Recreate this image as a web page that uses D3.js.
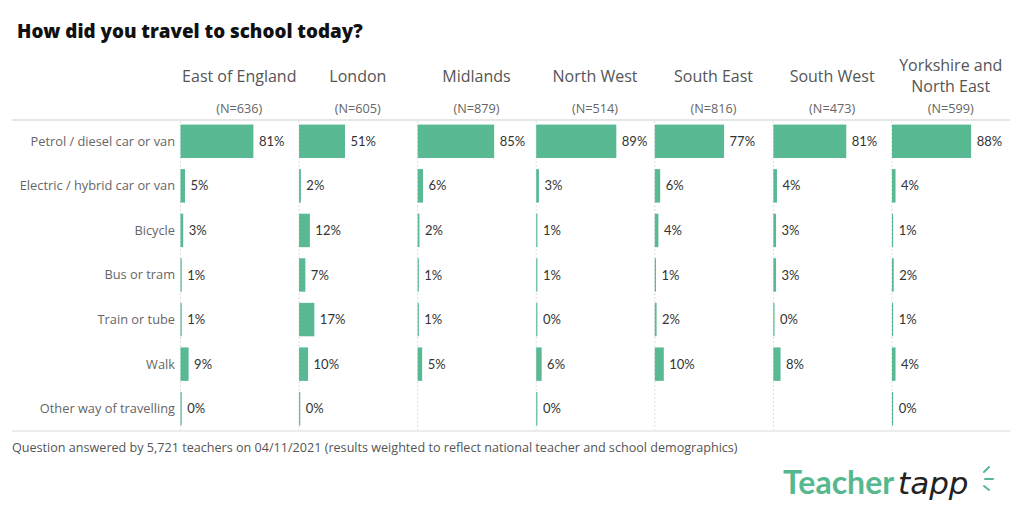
<!DOCTYPE html>
<html><head><meta charset="utf-8">
<script src="https://cdn.jsdelivr.net/npm/d3@7"></script>
<style>body{margin:0;background:#fff;} svg{display:block;}</style>
</head><body><svg id="c" width="1024" height="512"></svg>
<script>
const regions = ["East of England","London","Midlands","North West","South East","South West","Yorkshire and North East"];
const regionN = [636,605,879,514,816,473,599];
const modes = ["Petrol / diesel car or van","Electric / hybrid car or van","Bicycle","Bus or tram","Train or tube","Walk","Other way of travelling"];
const eastOfEngland = [81,5,3,1,1,9,0];
const london = [51,2,12,7,17,10,0];
const midlands = [85,6,2,1,1,5,null];
const northWest = [89,3,1,1,0,6,0];
const southEast = [77,6,4,1,2,10,null];
const southWest = [81,4,3,3,0,8,null];
const yorkshire = [88,4,1,2,1,4,0];
const seriesValues = [eastOfEngland,london,midlands,northWest,southEast,southWest,yorkshire];

const svg = d3.select("#c");
const font = "Lato, 'Open Sans', sans-serif";
const font2 = "'Open Sans', Lato, sans-serif";
const green = "#58b993";

svg.append("text").attr("x",17).attr("y",38).attr("font-family",font2).attr("font-weight",800)
  .attr("font-size",18.8).attr("fill","#111").text("How did you travel to school today?");

const x = d3.scaleBand().domain(regions).range([180,1010]);
const y = d3.scaleBand().domain(modes).range([119,431]).paddingInner(0.25).paddingOuter(0.125);
const w = d3.scaleLinear().domain([0,100]).range([0,90]);

svg.append("line").attr("x1",12).attr("x2",1010).attr("y1",120).attr("y2",120).attr("stroke","#e6e6e6").attr("stroke-width",2);
svg.append("line").attr("x1",12).attr("x2",1010).attr("y1",431).attr("y2",431).attr("stroke","#e6e6e6").attr("stroke-width",1.5);

regions.forEach((r,i)=>{
  const cx = x(r) + x.bandwidth()/2;
  const lines = r === "Yorkshire and North East" ? ["Yorkshire and","North East"] : [r];
  lines.forEach((ln,j)=>{
    const yy = lines.length===1 ? 82 : 71 + j*21;
    svg.append("text").attr("x",cx).attr("y",yy).attr("text-anchor","middle").attr("font-family",font2)
      .attr("font-size",16).attr("fill","#555").text(ln);
  });
  svg.append("text").attr("x",cx).attr("y",113).attr("text-anchor","middle").attr("font-family",font2)
    .attr("font-size",12.7).attr("fill","#666").text(`(N=${regionN[i]})`);
  svg.append("line").attr("x1",x(r)+0.5).attr("x2",x(r)+0.5).attr("y1",121).attr("y2",430)
    .attr("stroke","#dcdcdc").attr("stroke-dasharray","2,2").attr("stroke-width",1);
});

modes.forEach(m=>{
  svg.append("text").attr("x",175).attr("y",y(m)+y.bandwidth()/2).attr("dy","0.35em").attr("text-anchor","end")
    .attr("font-family",font2).attr("font-size",12.8).attr("fill","#666").text(m);
});

regions.forEach((r,i)=>{
  const g = svg.append("g");
  const data = modes.map((m,j)=>({m, v: seriesValues[i][j]})).filter(d=>d.v!==null);
  g.selectAll("rect").data(data).join("rect")
    .attr("x",x(r)+0.5).attr("y",d=>y(d.m)).attr("height",y.bandwidth())
    .attr("width",d=>Math.max(1.2,w(d.v))).attr("fill",green);
  g.selectAll("text").data(data).join("text")
    .attr("x",d=>x(r)+Math.max(1.2,w(d.v))+6).attr("y",d=>y(d.m)+y.bandwidth()/2).attr("dy","0.35em")
    .attr("font-family",font).attr("font-size",13).attr("fill","#333").text(d=>d.v+"%");
});

svg.append("text").attr("x",12).attr("y",452).attr("font-family",font2).attr("font-size",12.6).attr("fill","#555")
  .text("Question answered by 5,721 teachers on 04/11/2021 (results weighted to reflect national teacher and school demographics)");

svg.append("text").attr("x",783).attr("y",494).attr("font-family",font).attr("font-weight",700)
  .attr("font-size",32).attr("fill","#56b88f").text("Teacher");
svg.append("text").attr("x",898).attr("y",494).attr("font-family","'DejaVu Sans', sans-serif").attr("font-style","italic")
  .attr("font-size",31).attr("fill","#222").text("tapp");
[[984,472,989,467],[985,479,993,479],[984,486,989,490]].forEach(l=>{
  svg.append("line").attr("x1",l[0]).attr("y1",l[1]).attr("x2",l[2]).attr("y2",l[3]).attr("stroke","#56b88f").attr("stroke-width",2).attr("stroke-linecap","round");
});
</script></body></html>
